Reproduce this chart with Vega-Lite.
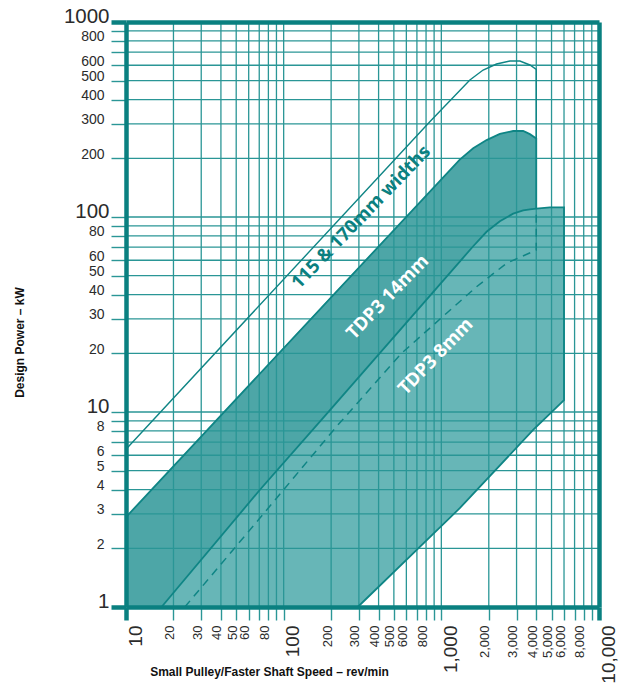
{
  "$schema": "https://vega.github.io/schema/vega-lite/v6.json",
  "width": 473,
  "height": 585,
  "autosize": {"type": "none"},
  "padding": {"left": 126, "top": 22, "right": 22, "bottom": 79},
  "background": "white",
  "config": {
    "view": {"stroke": null},
    "axis": {
      "domainColor": "#0a8080",
      "domainWidth": 4.5,
      "labelFont": "Liberation Sans",
      "labelColor": "#2b2b2b",
      "titleFont": "Liberation Sans",
      "titleFontWeight": "bold",
      "titleColor": "#111111",
      "labelOverlap": false,
      "labelBound": false,
      "labelFlush": false
    }
  },
  "datasets": {
    "gx": [
      {"x": 20}, {"x": 30}, {"x": 40}, {"x": 50}, {"x": 60}, {"x": 70}, {"x": 80}, {"x": 90},
      {"x": 100}, {"x": 200}, {"x": 300}, {"x": 400}, {"x": 500}, {"x": 600}, {"x": 700}, {"x": 800}, {"x": 900},
      {"x": 1000}, {"x": 2000}, {"x": 3000}, {"x": 4000}, {"x": 5000}, {"x": 6000}, {"x": 7000}, {"x": 8000}, {"x": 9000}
    ],
    "gy": [
      {"y": 2}, {"y": 3}, {"y": 4}, {"y": 5}, {"y": 6}, {"y": 7}, {"y": 8}, {"y": 9},
      {"y": 10}, {"y": 20}, {"y": 30}, {"y": 40}, {"y": 50}, {"y": 60}, {"y": 70}, {"y": 80}, {"y": 90},
      {"y": 100}, {"y": 200}, {"y": 300}, {"y": 400}, {"y": 500}, {"y": 600}, {"y": 700}, {"y": 800}, {"y": 900}
    ],
    "dark": [
      {"x": 10, "y": 2.89, "y2": 1},
      {"x": 16.8, "y": 4.54, "y2": 1},
      {"x": 70.5, "y": 15.8, "y2": 3.98},
      {"x": 196, "y": 38.4, "y2": 10.2},
      {"x": 1309, "y": 197, "y2": 59.1},
      {"x": 1592, "y": 225, "y2": 70.8},
      {"x": 1936, "y": 248, "y2": 84},
      {"x": 2350, "y": 267, "y2": 95},
      {"x": 2855, "y": 276, "y2": 104},
      {"x": 3304, "y": 276, "y2": 108},
      {"x": 3645, "y": 266, "y2": 109.5},
      {"x": 4000, "y": 253, "y2": 110.5}
    ],
    "light": [
      {"x": 16.8, "y": 1, "y2": 1},
      {"x": 70.5, "y": 3.98, "y2": 1},
      {"x": 196, "y": 10.2, "y2": 1},
      {"x": 295, "y": 14.9, "y2": 1},
      {"x": 1309, "y": 59.1, "y2": 3.21},
      {"x": 1592, "y": 70.8, "y2": 3.8},
      {"x": 1936, "y": 84, "y2": 4.49},
      {"x": 2350, "y": 95, "y2": 5.31},
      {"x": 2855, "y": 104, "y2": 6.28},
      {"x": 3304, "y": 108, "y2": 7.12},
      {"x": 3645, "y": 109.5, "y2": 7.76},
      {"x": 4000, "y": 110.5, "y2": 8.39},
      {"x": 4882, "y": 112, "y2": 9.79},
      {"x": 6000, "y": 112, "y2": 11.5}
    ],
    "lines": [
      {"s": "outline", "i": 0, "x": 10, "y": 6.44},
      {"s": "outline", "i": 1, "x": 845, "y": 308},
      {"s": "outline", "i": 2, "x": 1517, "y": 504},
      {"s": "outline", "i": 3, "x": 1841, "y": 567},
      {"s": "outline", "i": 4, "x": 2239, "y": 609},
      {"s": "outline", "i": 5, "x": 2722, "y": 631},
      {"s": "outline", "i": 6, "x": 3150, "y": 631},
      {"s": "outline", "i": 7, "x": 3645, "y": 602},
      {"s": "outline", "i": 8, "x": 4000, "y": 572},
      {"s": "outline", "i": 9, "x": 4000, "y": 253},
      {"s": "dtop", "i": 0, "x": 10, "y": 2.89},
      {"s": "dtop", "i": 1, "x": 1309, "y": 197},
      {"s": "dtop", "i": 2, "x": 1592, "y": 225},
      {"s": "dtop", "i": 3, "x": 1936, "y": 248},
      {"s": "dtop", "i": 4, "x": 2350, "y": 267},
      {"s": "dtop", "i": 5, "x": 2855, "y": 276},
      {"s": "dtop", "i": 6, "x": 3304, "y": 276},
      {"s": "dtop", "i": 7, "x": 3645, "y": 266},
      {"s": "dtop", "i": 8, "x": 4000, "y": 253},
      {"s": "dtop", "i": 9, "x": 4000, "y": 110.5},
      {"s": "solid", "i": 0, "x": 16.8, "y": 1},
      {"s": "solid", "i": 1, "x": 70.5, "y": 3.98},
      {"s": "solid", "i": 2, "x": 196, "y": 10.2},
      {"s": "solid", "i": 3, "x": 1309, "y": 59.1},
      {"s": "solid", "i": 4, "x": 1592, "y": 70.8},
      {"s": "solid", "i": 5, "x": 1936, "y": 84},
      {"s": "solid", "i": 6, "x": 2350, "y": 95},
      {"s": "solid", "i": 7, "x": 2855, "y": 104},
      {"s": "solid", "i": 8, "x": 3304, "y": 108},
      {"s": "solid", "i": 9, "x": 3645, "y": 109.5},
      {"s": "solid", "i": 10, "x": 4000, "y": 110.5},
      {"s": "solid", "i": 11, "x": 4882, "y": 112},
      {"s": "solid", "i": 12, "x": 6000, "y": 112},
      {"s": "solid", "i": 13, "x": 6000, "y": 11.5},
      {"s": "solid", "i": 14, "x": 3823, "y": 8.09},
      {"s": "solid", "i": 15, "x": 1309, "y": 3.21},
      {"s": "solid", "i": 16, "x": 295, "y": 1},
      {"s": "dashed", "i": 0, "x": 23.6, "y": 1},
      {"s": "dashed", "i": 1, "x": 70.5, "y": 2.85},
      {"s": "dashed", "i": 2, "x": 216, "y": 8.41},
      {"s": "dashed", "i": 3, "x": 559, "y": 20},
      {"s": "dashed", "i": 4, "x": 1079, "y": 32.1},
      {"s": "dashed", "i": 5, "x": 1673, "y": 43.9},
      {"s": "dashed", "i": 6, "x": 2593, "y": 57.9},
      {"s": "dashed", "i": 7, "x": 4000, "y": 67.7},
      {"s": "dashed", "i": 8, "x": 4000, "y": 108}
    ],
    "labels": [
      {"t": "115 & 170mm widths", "k": "outline", "x": 309, "y": 100},
      {"t": "TDP3 14mm", "k": "band", "x": 455, "y": 38.9},
      {"t": "TDP3 8mm", "k": "band", "x": 918, "y": 19.3}
    ]
  },
  "layer": [
    {
      "data": {"name": "dark"},
      "mark": {"type": "area", "color": "#4da6a7", "interpolate": "linear"},
      "encoding": {
        "x": {"field": "x", "type": "quantitative", "scale": {"type": "log", "domain": [10, 10000], "nice": false}},
        "y": {"field": "y", "type": "quantitative", "scale": {"type": "log", "domain": [1, 1000], "nice": false}},
        "y2": {"field": "y2"}
      }
    },
    {
      "data": {"name": "light"},
      "mark": {"type": "area", "color": "#67b6b7", "interpolate": "linear"},
      "encoding": {
        "x": {"field": "x", "type": "quantitative"},
        "y": {"field": "y", "type": "quantitative"},
        "y2": {"field": "y2"}
      }
    },
    {
      "data": {"name": "gx"},
      "mark": {"type": "rule", "color": "#2a9696", "strokeWidth": 1.3},
      "encoding": {
        "x": {
          "field": "x",
          "type": "quantitative",
          "axis": {
            "zindex": 1,
            "values": [10, 20, 30, 40, 50, 60, 70, 80, 90, 100, 200, 300, 400, 500, 600, 700, 800, 900, 1000, 2000, 3000, 4000, 5000, 6000, 7000, 8000, 9000, 10000],
            "format": ",",
            "labelExpr": "indexof([70, 90, 700, 900, 7000, 9000], datum.value) >= 0 ? '' : datum.label",
            "labelAngle": -90,
            "labelAlign": "right",
            "labelBaseline": {"condition": {"test": "datum.value == 10 || datum.value == 100 || datum.value == 1000 || datum.value == 10000", "value": "top"}, "value": "alphabetic"},
            "labelFontSize": {"condition": {"test": "datum.value == 10 || datum.value == 100 || datum.value == 1000 || datum.value == 10000", "value": 19}, "value": 13},
            "labelPadding": 5,
            "tickSize": 13,
            "tickWidth": {"condition": {"test": "datum.value == 10 || datum.value == 10000", "value": 4.5}, "value": 1.4},
            "tickColor": {"condition": {"test": "datum.value == 10 || datum.value == 10000", "value": "#0a8080"}, "value": "#2a9696"},
            "gridWidth": 4.5,
            "gridColor": {"condition": {"test": "datum.value == 10000", "value": "#0a8080"}, "value": "transparent"},
            "title": "Small Pulley/Faster Shaft Speed – rev/min",
            "titleFontSize": 12,
            "titleX": 143,
            "titleY": 64,
            "titleAlign": "center",
            "titleBaseline": "middle"
          }
        }
      }
    },
    {
      "data": {"name": "gy"},
      "mark": {"type": "rule", "color": "#2a9696", "strokeWidth": 1.3},
      "encoding": {
        "y": {
          "field": "y",
          "type": "quantitative",
          "axis": {
            "zindex": 1,
            "values": [1, 2, 3, 4, 5, 6, 7, 8, 9, 10, 20, 30, 40, 50, 60, 70, 80, 90, 100, 200, 300, 400, 500, 600, 700, 800, 900, 1000],
            "format": "d",
            "labelExpr": "indexof([7, 9, 70, 90, 700, 900], datum.value) >= 0 ? '' : datum.label",
            "labelBaseline": "alphabetic",
            "labelFontSize": {"condition": {"test": "datum.value == 1 || datum.value == 10 || datum.value == 100 || datum.value == 1000", "value": 20.5}, "value": 14},
            "labelPadding": {"condition": {"test": "datum.value == 1 || datum.value == 10 || datum.value == 100 || datum.value == 1000", "value": 2}, "value": 7},
            "tickSize": 15,
            "tickWidth": {"condition": {"test": "datum.value == 1 || datum.value == 1000", "value": 4.5}, "value": 1.4},
            "tickColor": {"condition": {"test": "datum.value == 1 || datum.value == 1000", "value": "#0a8080"}, "value": "#2a9696"},
            "gridWidth": 4.5,
            "gridColor": {"condition": {"test": "datum.value == 1000", "value": "#0a8080"}, "value": "transparent"},
            "title": "Design Power – kW",
            "titleFontSize": 12,
            "titleX": -107,
            "titleY": 320,
            "titleAngle": -90,
            "titleAlign": "center",
            "titleBaseline": "middle"
          }
        }
      }
    },
    {
      "data": {"name": "lines"},
      "transform": [{"filter": "datum.s == 'outline'"}],
      "mark": {"type": "line", "color": "#0f8585", "strokeWidth": 1.4, "interpolate": "linear"},
      "encoding": {
        "x": {"field": "x", "type": "quantitative"},
        "y": {"field": "y", "type": "quantitative"},
        "detail": {"field": "s"},
        "order": {"field": "i", "type": "quantitative"}
      }
    },
    {
      "data": {"name": "lines"},
      "transform": [{"filter": "datum.s == 'dtop' || datum.s == 'solid'"}],
      "mark": {"type": "line", "color": "#0f8585", "strokeWidth": 1.8, "interpolate": "linear"},
      "encoding": {
        "x": {"field": "x", "type": "quantitative"},
        "y": {"field": "y", "type": "quantitative"},
        "detail": {"field": "s"},
        "order": {"field": "i", "type": "quantitative"}
      }
    },
    {
      "data": {"name": "lines"},
      "transform": [{"filter": "datum.s == 'dashed'"}],
      "mark": {"type": "line", "color": "#0f8585", "strokeWidth": 1.5, "strokeDash": [8, 6], "interpolate": "linear"},
      "encoding": {
        "x": {"field": "x", "type": "quantitative"},
        "y": {"field": "y", "type": "quantitative"},
        "detail": {"field": "s"},
        "order": {"field": "i", "type": "quantitative"}
      }
    },
    {
      "data": {"name": "labels"},
      "mark": {"type": "text", "font": "Open Sans", "fontWeight": "bold", "fontSize": 18.5, "angle": -46, "align": "center", "baseline": "middle"},
      "encoding": {
        "x": {"field": "x", "type": "quantitative"},
        "y": {"field": "y", "type": "quantitative"},
        "text": {"field": "t"},
        "color": {"field": "k", "type": "nominal", "scale": {"domain": ["outline", "band"], "range": ["#0b8080", "#ffffff"]}, "legend": null}
      }
    }
  ]
}
